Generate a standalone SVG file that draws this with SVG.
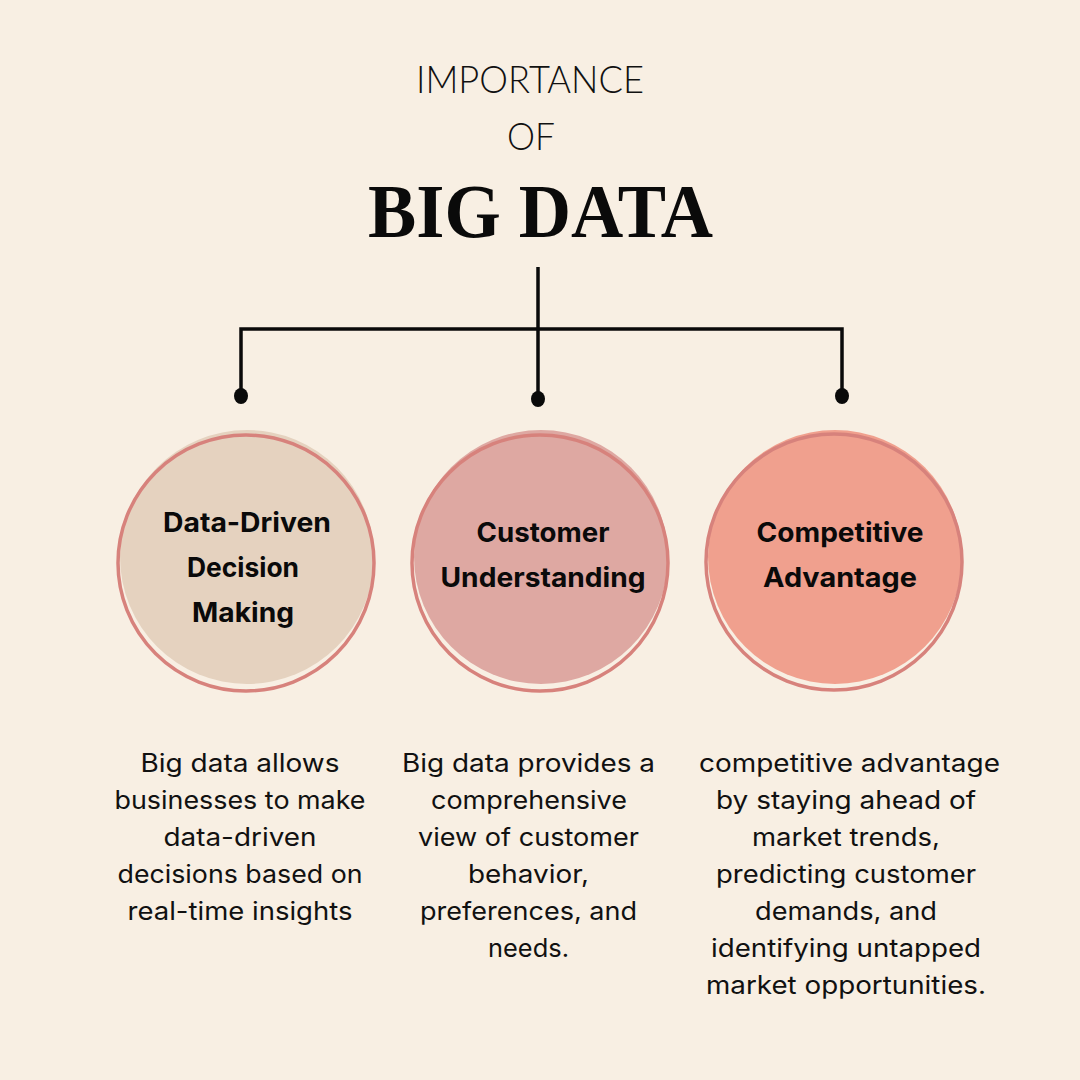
<svg xmlns="http://www.w3.org/2000/svg" width="1080" height="1080" viewBox="0 0 1080 1080">
  <style>
    .title-thin { font-family: "Lato", "Inter", "Noto Sans", sans-serif; font-weight: 300; font-size: 37px; fill: #111; }
    .title-big { font-family: "Liberation Serif", "DejaVu Serif", serif; font-weight: 700; font-size: 76px; fill: #0a0a0a; }
    .head { font-family: "Inter", "Noto Sans", "Liberation Sans", sans-serif; font-weight: 700; font-size: 27px; fill: #0a0a0a; text-anchor: middle; }
    .body { font-family: "Inter", "Noto Sans", "Liberation Sans", sans-serif; font-weight: 400; font-size: 25px; fill: #111; text-anchor: middle; }
    .ring { fill: none; stroke: #d7827c; stroke-width: 3.5; }
    .conn { stroke: #0a0a0a; stroke-width: 3.5; fill: none; }
  </style>
  <rect width="1080" height="1080" fill="#f8efe3"/>

  <g id="title">
    <text class="title-thin" x="530" y="93" text-anchor="middle" textLength="228" lengthAdjust="spacingAndGlyphs">IMPORTANCE</text>
    <text class="title-thin" x="531" y="150" text-anchor="middle" textLength="48" lengthAdjust="spacingAndGlyphs">OF</text>
    <text class="title-big" x="540.5" y="237" text-anchor="middle" textLength="345" lengthAdjust="spacingAndGlyphs">BIG DATA</text>
  </g>

  <g id="connectors">
    <line class="conn" x1="538" y1="267" x2="538" y2="398"/>
    <polyline class="conn" points="241,396 241,329 842,329 842,395"/>
    <ellipse cx="241" cy="396" rx="7" ry="8" fill="#0a0a0a"/>
    <ellipse cx="538" cy="399" rx="7" ry="8" fill="#0a0a0a"/>
    <ellipse cx="842" cy="396" rx="7" ry="8" fill="#0a0a0a"/>
  </g>

  <g id="node-data-driven">
    <circle cx="247" cy="557" r="127" fill="#e5d2bf"/>
    <circle class="ring" cx="246" cy="563" r="128"/>
    <text class="head" x="247" y="532" textLength="168" lengthAdjust="spacingAndGlyphs">Data-Driven</text>
    <text class="head" x="243" y="577" textLength="112" lengthAdjust="spacingAndGlyphs">Decision</text>
    <text class="head" x="243" y="622" textLength="102" lengthAdjust="spacingAndGlyphs">Making</text>
  </g>

  <g id="node-customer">
    <circle cx="541" cy="557" r="127" fill="#dea8a2"/>
    <circle class="ring" cx="540" cy="563" r="128"/>
    <text class="head" x="543" y="542" textLength="133" lengthAdjust="spacingAndGlyphs">Customer</text>
    <text class="head" x="543" y="587" textLength="205" lengthAdjust="spacingAndGlyphs">Understanding</text>
  </g>

  <g id="node-competitive">
    <circle cx="835" cy="557" r="127" fill="#f0a08e"/>
    <circle class="ring" cx="834" cy="562" r="128"/>
    <text class="head" x="840" y="542" textLength="167" lengthAdjust="spacingAndGlyphs">Competitive</text>
    <text class="head" x="840" y="587" textLength="154" lengthAdjust="spacingAndGlyphs">Advantage</text>
  </g>

  <g id="text-data-driven">
    <text class="body" x="240" y="772" textLength="199" lengthAdjust="spacingAndGlyphs">Big data allows</text>
    <text class="body" x="240" y="809" textLength="251" lengthAdjust="spacingAndGlyphs">businesses to make</text>
    <text class="body" x="240" y="846" textLength="153" lengthAdjust="spacingAndGlyphs">data-driven</text>
    <text class="body" x="240" y="883" textLength="245" lengthAdjust="spacingAndGlyphs">decisions based on</text>
    <text class="body" x="240" y="920" textLength="225" lengthAdjust="spacingAndGlyphs">real-time insights</text>
  </g>

  <g id="text-customer">
    <text class="body" x="528.5" y="772" textLength="253" lengthAdjust="spacingAndGlyphs">Big data provides a</text>
    <text class="body" x="529" y="809" textLength="196" lengthAdjust="spacingAndGlyphs">comprehensive</text>
    <text class="body" x="528.5" y="846" textLength="221" lengthAdjust="spacingAndGlyphs">view of customer</text>
    <text class="body" x="528.5" y="883" textLength="121" lengthAdjust="spacingAndGlyphs">behavior,</text>
    <text class="body" x="528.5" y="920" textLength="217" lengthAdjust="spacingAndGlyphs">preferences, and</text>
    <text class="body" x="528.5" y="957" textLength="81" lengthAdjust="spacingAndGlyphs">needs.</text>
  </g>

  <g id="text-competitive">
    <text class="body" x="849.5" y="772" textLength="301" lengthAdjust="spacingAndGlyphs">competitive advantage</text>
    <text class="body" x="846" y="809" textLength="260" lengthAdjust="spacingAndGlyphs">by staying ahead of</text>
    <text class="body" x="846" y="846" textLength="188" lengthAdjust="spacingAndGlyphs">market trends,</text>
    <text class="body" x="846" y="883" textLength="260" lengthAdjust="spacingAndGlyphs">predicting customer</text>
    <text class="body" x="846" y="920" textLength="182" lengthAdjust="spacingAndGlyphs">demands, and</text>
    <text class="body" x="846" y="957" textLength="270" lengthAdjust="spacingAndGlyphs">identifying untapped</text>
    <text class="body" x="846" y="994" textLength="280" lengthAdjust="spacingAndGlyphs">market opportunities.</text>
  </g>
</svg>
